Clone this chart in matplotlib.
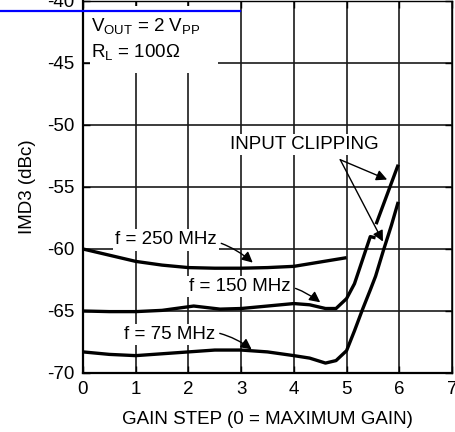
import numpy as np
import matplotlib.pyplot as plt
from matplotlib.patches import Rectangle
from matplotlib.lines import Line2D

plt.rcParams['font.family'] = ['Liberation Sans', 'DejaVu Sans']
plt.rcParams['mathtext.fontset'] = 'custom'
plt.rcParams['mathtext.rm'] = 'Liberation Sans'
plt.rcParams['axes.unicode_minus'] = False

# Data (gain step, IMD3 in dBc)
x_250 = [0, 0.5, 1, 1.5, 2, 2.5, 3, 3.5, 4, 4.5, 5]
y_250 = [-60.0, -60.5, -61.0, -61.3, -61.5, -61.55, -61.55, -61.5, -61.4, -61.05, -60.7]

x_150 = [0, 0.5, 1, 1.5, 2.1, 2.6, 3, 3.5, 4, 4.3, 4.6, 4.8, 5.0, 5.15, 5.3, 5.45, 5.55]
y_150 = [-65.0, -65.05, -65.05, -64.95, -64.6, -64.85, -64.8, -64.6, -64.4, -64.5,
         -64.8, -64.8, -64.0, -62.8, -60.9, -59.0, -59.1]

x_75 = [0, 0.5, 1, 1.5, 2, 2.5, 3, 3.5, 4, 4.3, 4.6, 4.8, 5.0, 5.15, 5.3, 5.45, 5.55, 5.7, 5.85, 5.98]
y_75 = [-68.3, -68.5, -68.6, -68.45, -68.3, -68.15, -68.15, -68.3, -68.6, -68.8,
        -69.2, -69.0, -68.2, -66.6, -64.9, -63.3, -62.2, -60.1, -58.1, -56.2]

# input clipping segment
x_clip = [5.56, 5.98]
y_clip = [-58.0, -53.2]

x_ticks = [0, 1, 2, 3, 4, 5, 6, 7]
y_ticks = [-70, -65, -60, -55, -50, -45, -40]

fig = plt.figure(figsize=(4.55, 4.32), dpi=100)
ax = fig.add_axes([0.1824, 0.1366, 0.8110, 0.8611])

ax.set_xlim(0, 7)
ax.set_ylim(-70, -40)
ax.set_xticks(x_ticks)
ax.set_yticks(y_ticks)
ax.set_axisbelow(True)
ax.grid(True, color='#1a1a1a', lw=1.2)
ax.tick_params(direction='in', length=5, width=1, top=True, right=True,
               labelsize=13.5, pad=6, colors='black')
for s in ['left', 'bottom']:
    ax.spines[s].set_linewidth(1.6)
for s in ['top', 'right']:
    ax.spines[s].set_linewidth(1.0)

# white block behind the condition text
ax.add_patch(Rectangle((0.14, -45.8), 2.42, 5.4, facecolor='white',
                       edgecolor='none', zorder=1))

lw = 2.4
ax.plot(x_250, y_250, color='black', lw=lw, zorder=3, solid_capstyle='butt')
ax.plot(x_150, y_150, color='black', lw=lw, zorder=3, solid_capstyle='butt')
ax.plot(x_75, y_75, color='black', lw=lw, zorder=3, solid_capstyle='butt')
ax.plot(x_clip, y_clip, color='black', lw=lw, zorder=3, solid_capstyle='butt')

fs = 13.5
ax.text(0.16, -42.1, r'V$_{\mathrm{OUT}}$ = 2 V$_{\mathrm{PP}}$', fontsize=fs,
        va='center', ha='left', zorder=4)
ax.text(0.16, -44.2, r'R$_{\mathrm{L}}$ = 100Ω', fontsize=fs,
        va='center', ha='left', zorder=4)

box = dict(facecolor='white', edgecolor='none', pad=1.5)
arrow_curve = dict(arrowstyle='-|>', color='black', lw=1.0, mutation_scale=16,
                   connectionstyle='arc3,rad=-0.25', shrinkA=2, shrinkB=0)

ax.annotate('f = 250 MHz', xy=(3.22, -61.1), xytext=(1.57, -59.27),
            fontsize=fs, ha='center', va='center', bbox=box,
            arrowprops=arrow_curve, zorder=4)
ax.annotate('f = 150 MHz', xy=(4.5, -64.3), xytext=(2.98, -63.06),
            fontsize=fs, ha='center', va='center', bbox=box,
            arrowprops=arrow_curve, zorder=4)
ax.annotate('f = 75 MHz', xy=(3.2, -68.1), xytext=(1.64, -66.9),
            fontsize=fs, ha='center', va='center', bbox=box,
            arrowprops=arrow_curve, zorder=4)

ax.text(4.2, -51.6, 'INPUT CLIPPING', fontsize=fs, ha='center', va='center',
        bbox=box, zorder=4)
arrow_straight = dict(arrowstyle='-|>', color='black', lw=1.0,
                      mutation_scale=16, shrinkA=0, shrinkB=0)
ax.annotate('', xy=(5.77, -54.4), xytext=(4.88, -52.8),
            arrowprops=arrow_straight, zorder=4)
ax.annotate('', xy=(5.69, -59.4), xytext=(4.88, -52.8),
            arrowprops=arrow_straight, zorder=4)

ax.set_xlabel('GAIN STEP (0 = MAXIMUM GAIN)', fontsize=fs, labelpad=9)
ax.set_ylabel('IMD3 (dBc)', fontsize=fs, labelpad=8)

# blue link underline at the very top
fig.add_artist(Line2D([0.0, 0.527], [1 - 11 / 432, 1 - 11 / 432],
                      color='#0000ff', lw=1.6, transform=fig.transFigure))

fig.savefig('out.png', dpi=100)
